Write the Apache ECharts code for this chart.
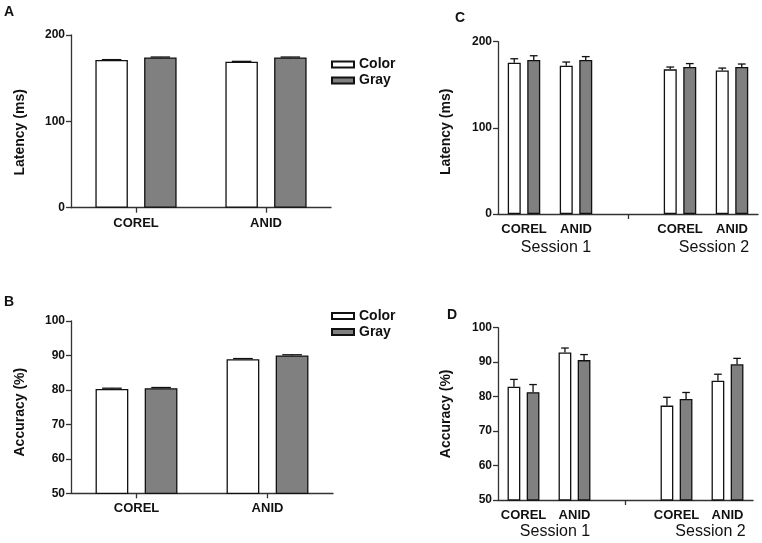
<!DOCTYPE html>
<html><head><meta charset="utf-8">
<script src="https://cdn.jsdelivr.net/npm/echarts@6/dist/echarts.min.js"></script>
<style>html,body{margin:0;padding:0;background:#fff}#c{width:762px;height:543px}</style>
</head><body><div id="c"></div>
<script>
const catsAB = ['COREL', 'ANID'];
const catsCD = ['COREL', 'ANID', '', 'COREL', 'ANID'];
const sessionLabels = ['Session 1', 'Session 2'];
const seriesNames = ['Color', 'Gray'];

const aColor = [171, 169];
const aGray = [174, 174];
const aColorErr = [0.5, 0.5];
const aGrayErr = [0.5, 0.5];

const bColor = [80.3, 88.9];
const bGray = [80.5, 90.0];
const bColorErr = [0.2, 0.2];
const bGrayErr = [0.2, 0.2];

const cColor = [175.6, 172.1, null, 167.9, 166.7];
const cGray = [178.7, 178.7, null, 170.6, 170.6];
const cColorErr = [4.6, 4.3, null, 2.7, 2.7];
const cGrayErr = [5.0, 4.0, null, 4.0, 3.5];

const dColor = [82.9, 92.8, null, 77.4, 84.6];
const dGray = [81.3, 90.6, null, 79.3, 89.4];
const dColorErr = [2.1, 1.3, null, 2.4, 1.9];
const dGrayErr = [2.2, 1.6, null, 1.9, 1.7];

const FONT = "'Liberation Sans', Arial, sans-serif";
const chart = echarts.init(document.getElementById('c'), null, {renderer: 'canvas'});

const grids = [
  {left: 71, top: 35, width: 260, height: 172.7},
  {left: 71, top: 321, width: 262, height: 172.3},
  {left: 498, top: 41.7, width: 260, height: 172.3},
  {left: 498, top: 327.7, width: 255, height: 172.3}
];

function xAxis(idx, cats, onlyMid) {
  return {
    type: 'category', gridIndex: idx, data: cats,
    axisLine: {lineStyle: {color: '#333', width: 1.3}},
    axisTick: {show: true, alignWithLabel: true, length: 5, lineStyle: {color: '#333', width: 1.3},
      interval: onlyMid ? function (i) { return i === 2; } : 0},
    axisLabel: {interval: 0, margin: 9, fontFamily: FONT, fontWeight: 'bold', fontSize: 13, color: '#111'},
    splitLine: {show: false}
  };
}
function yAxis(idx, min, max, interval, name, shiftDown) {
  return {
    type: 'value', gridIndex: idx, min: min, max: max, interval: interval,
    name: name, nameLocation: 'middle', nameGap: 44,
    nameTextStyle: {fontFamily: FONT, fontWeight: 'bold', fontSize: 14, color: '#111',
      padding: [0, 2 * shiftDown, 0, 0]},
    axisLine: {show: true, lineStyle: {color: '#333', width: 1.3}},
    axisTick: {show: true, length: 5, lineStyle: {color: '#333', width: 1.3}},
    axisLabel: {margin: 6, fontFamily: FONT, fontWeight: 'bold', fontSize: 12, color: '#111'},
    splitLine: {show: false}
  };
}

const fills = ['#ffffff', '#808080'];
function barSeries(idx, k, data) {
  return {
    type: 'bar', name: seriesNames[k], xAxisIndex: idx, yAxisIndex: idx,
    data: data, barWidth: '25%', barGap: '50%',
    itemStyle: {color: fills[k], borderColor: '#111', borderWidth: 1.3},
    emphasis: {disabled: true}, animation: false
  };
}
function errSeries(idx, k, vals, errs) {
  const sign = k === 0 ? -1 : 1;
  return {
    type: 'custom', name: 'err' + idx + '_' + k, xAxisIndex: idx, yAxisIndex: idx, z: 3,
    data: vals.map((v, i) => v == null ? [i, null, null] : [i, v, errs[i]]),
    renderItem: function (params, api) {
      const i = api.value(0), v = api.value(1), e = api.value(2);
      if (v == null || isNaN(v)) return null;
      const band = api.size([1, 0])[0];
      const base = api.coord([i, v]);
      const top = api.coord([i, v + e]);
      const x = base[0] + sign * band * 0.1875;
      const cap = band * 0.25 * 0.3;
      const st = {stroke: '#111', lineWidth: 1.3};
      return {type: 'group', children: [
        {type: 'line', shape: {x1: x, y1: base[1], x2: x, y2: top[1]}, style: st},
        {type: 'line', shape: {x1: x - cap, y1: top[1], x2: x + cap, y2: top[1]}, style: st}
      ]};
    },
    animation: false, silent: true
  };
}

function legend(top) {
  return {
    data: seriesNames, orient: 'vertical', left: 331, top: top, padding: 0,
    itemWidth: 22, itemHeight: 6, itemGap: 2, itemTextGap: 5, icon: 'rect', selectedMode: false,
    textStyle: {fontFamily: FONT, fontWeight: 'bold', fontSize: 14, color: '#111', lineHeight: 14}
  };
}

function txt(x, y, s, size, bold, align) {
  return {type: 'text', x: x, y: y, style: {text: s, fontFamily: FONT, fontSize: size,
    fontWeight: bold ? 'bold' : 'normal', fill: '#111', align: align || 'left', verticalAlign: 'middle'}};
}

const option = {
  backgroundColor: '#fff',
  animation: false,
  grid: grids,
  xAxis: [xAxis(0, catsAB, false), xAxis(1, catsAB, false), xAxis(2, catsCD, true), xAxis(3, catsCD, true)],
  yAxis: [
    Object.assign(yAxis(0, 0, 200, 100, 'Latency (ms)', 11), {nameGap: 44}),
    yAxis(1, 50, 100, 10, 'Accuracy (%)', 5),
    Object.assign(yAxis(2, 0, 200, 100, 'Latency (ms)', 4), {nameGap: 45}),
    Object.assign(yAxis(3, 50, 100, 10, 'Accuracy (%)', 0), {nameGap: 45})
  ],
  legend: [legend(57.5), legend(309)],
  series: [
    barSeries(0, 0, aColor), barSeries(0, 1, aGray), errSeries(0, 0, aColor, aColorErr), errSeries(0, 1, aGray, aGrayErr),
    barSeries(1, 0, bColor), barSeries(1, 1, bGray), errSeries(1, 0, bColor, bColorErr), errSeries(1, 1, bGray, bGrayErr),
    barSeries(2, 0, cColor), barSeries(2, 1, cGray), errSeries(2, 0, cColor, cColorErr), errSeries(2, 1, cGray, cGrayErr),
    barSeries(3, 0, dColor), barSeries(3, 1, dGray), errSeries(3, 0, dColor, dColorErr), errSeries(3, 1, dGray, dGrayErr)
  ],
  graphic: [
    txt(4, 12, 'A', 14, true), txt(4, 302.5, 'B', 14, true),
    txt(455, 18, 'C', 14, true), txt(447, 314.7, 'D', 14, true),
    txt(556, 248, sessionLabels[0], 16, false, 'center'), txt(714, 248, sessionLabels[1], 16, false, 'center'),
    txt(555, 532, sessionLabels[0], 16, false, 'center'), txt(710.5, 532, sessionLabels[1], 16, false, 'center')
  ]
};
chart.setOption(option);
</script></body></html>
